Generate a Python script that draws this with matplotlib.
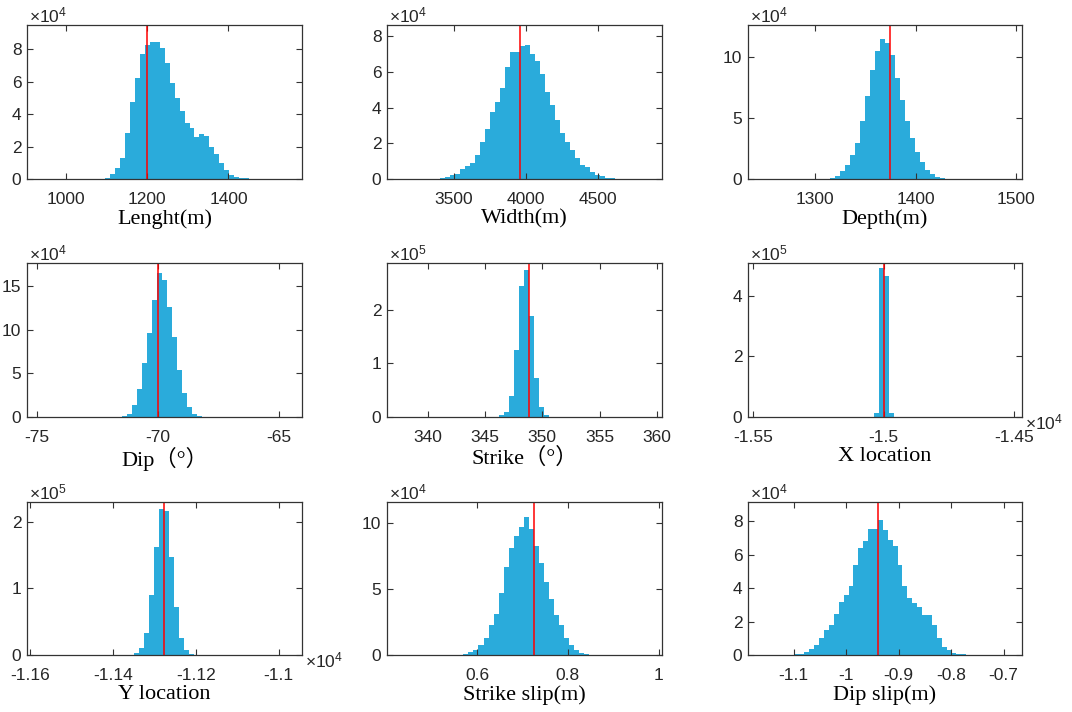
import numpy as np
import matplotlib
matplotlib.use("Agg")
import matplotlib.pyplot as plt
from matplotlib.transforms import offset_copy

plt.rcParams['font.family'] = ['Liberation Sans', 'DejaVu Sans']
plt.rcParams['mathtext.fontset'] = 'custom'
plt.rcParams['mathtext.rm'] = 'Liberation Sans'
plt.rcParams['mathtext.it'] = 'Liberation Sans:italic'
plt.rcParams['mathtext.bf'] = 'Liberation Sans:bold'

# ---------------- data (counts) ----------------
labels = ["Lenght(m)", "Width(m)", "Depth(m)",
          "Dip（°）", "Strike（°）", "X location",
          "Y location", "Strike slip(m)", "Dip slip(m)"]

length_start, length_width = 1096.7, 12.2
length_counts = [0.08, 0.29, 0.70, 1.31, 2.81, 4.76, 6.24, 7.67, 8.25, 8.41, 8.41, 8.04,
                 7.12, 5.89, 5.00, 4.18, 3.42, 3.16, 2.60, 2.77, 2.67, 1.99, 1.52, 0.97,
                 0.55, 0.25, 0.15, 0.08, 0.05, 0.03, 0.02, 0.01]
length_best = 1200.0

width_start, width_width = 3407.0, 34.7
width_counts = [0.05, 0.10, 0.20, 0.30, 0.55, 0.70, 0.90, 1.35, 2.05, 2.80, 3.75, 4.30,
                5.10, 6.25, 7.10, 7.10, 7.45, 7.50, 7.00, 6.60, 5.90, 4.85, 4.15, 3.30,
                2.60, 2.05, 1.60, 1.20, 0.80, 0.65, 0.40, 0.25, 0.15, 0.08, 0.03]
width_best = 3961.0

depth_start, depth_width = 1309.3, 5.0
depth_counts = [0.03, 0.08, 0.27, 0.68, 1.15, 1.97, 2.93, 4.79, 6.82, 9.00, 10.5, 11.5,
                11.2, 10.2, 8.27, 6.50, 4.80, 3.34, 2.19, 1.37, 0.74, 0.41, 0.19, 0.07, 0.02]
depth_best = 1374.3

dip_start, dip_width = -71.70, 0.207
dip_counts = [0.03, 0.10, 0.40, 1.40, 3.20, 6.20, 9.60, 13.4, 16.6, 15.7, 12.7, 9.20,
              5.40, 2.80, 1.10, 0.35, 0.10]
dip_best = -70.0

strike_start, strike_width = 346.25, 0.436
strike_counts = [0.03, 0.10, 0.40, 1.25, 2.45, 2.75, 1.88, 0.73, 0.18, 0.03]
strike_best = 348.87

xloc_start, xloc_width = -15038.0, 19.0
xloc_counts = [0.13, 4.90, 4.65, 0.13]
xloc_best = -15000.0

yloc_start, yloc_width = -11350.4, 12.1
yloc_counts = [0.03, 0.10, 0.33, 0.90, 1.63, 2.20, 2.17, 1.47, 0.72, 0.26, 0.07, 0.01]
yloc_best = -11277.8

sslip_start, sslip_width = 0.5035, 0.0111
sslip_counts = [0.005, 0.01, 0.01, 0.01, 0.01, 0.02, 0.10, 0.25, 0.40, 0.75, 1.30, 2.25,
                3.10, 4.70, 6.70, 8.10, 9.00, 9.70, 10.5, 9.55, 8.30, 6.95, 5.55, 4.25,
                3.00, 2.25, 1.30, 0.75, 0.35, 0.15, 0.05, 0.02, 0.01]
sslip_best = 0.7255

dslip_start, dslip_width = -1.1169, 0.00934
dslip_counts = [0.01, 0.02, 0.04, 0.07, 0.18, 0.34, 0.58, 1.00, 1.50, 1.80, 2.44, 3.20,
                3.60, 4.16, 5.40, 6.40, 6.80, 7.54, 7.54, 8.10, 7.50, 6.86, 6.54, 5.40,
                4.16, 3.40, 3.14, 2.86, 2.40, 2.40, 1.80, 1.00, 0.50, 0.30, 0.14, 0.06,
                0.03, 0.02, 0.01]
dslip_best = -0.9394

# count scale exponents (y) and x-axis scale exponents
y_exp = [4, 4, 4, 4, 5, 5, 5, 4, 4]
x_exp = [0, 0, 0, 0, 0, 4, 4, 0, 0]

x_ticks = [[1000, 1200, 1400], [3500, 4000, 4500], [1300, 1400, 1500],
           [-75, -70, -65], [340, 345, 350, 355, 360], [-15500, -15000, -14500],
           [-11600, -11400, -11200, -11000], [0.6, 0.8, 1.0], [-1.1, -1.0, -0.9, -0.8, -0.7]]
x_lims = [(904, 1581), (3037, 4947), (1233, 1506),
          (-75.41, -64.03), (336.45, 360.44), (-15520, -14470),
          (-11608, -10944), (0.402, 1.0074), (-1.187, -0.665)]
y_ticks = [[0, 2, 4, 6, 8], [0, 2, 4, 6, 8], [0, 5, 10],
           [0, 5, 10, 15], [0, 1, 2], [0, 2, 4],
           [0, 1, 2], [0, 5, 10], [0, 2, 4, 6, 8]]
y_tops = [9.48, 8.62, 12.66, 17.7, 2.875, 5.08, 2.30, 11.6, 9.16]

starts = [length_start, width_start, depth_start, dip_start, strike_start,
          xloc_start, yloc_start, sslip_start, dslip_start]
widths = [length_width, width_width, depth_width, dip_width, strike_width,
          xloc_width, yloc_width, sslip_width, dslip_width]
counts = [length_counts, width_counts, depth_counts, dip_counts, strike_counts,
          xloc_counts, yloc_counts, sslip_counts, dslip_counts]
bests = [length_best, width_best, depth_best, dip_best, strike_best,
         xloc_best, yloc_best, sslip_best, dslip_best]

# ---------------- figure ----------------
W, H = 1072, 712
fig = plt.figure(figsize=(W / 100, H / 100), dpi=100)

BAR = '#2AABDB'
AXC = '#333333'
TXT = '#262626'
col_px = [(27, 302), (387, 662), (748, 1022)]
row_px = [(25, 179), (263, 417), (502, 655)]
TICK_FS = 12.5

def fmt(v):
    return '%g' % v

for i in range(9):
    r, c = divmod(i, 3)
    x0, x1 = col_px[c]
    y0, y1 = row_px[r]
    ax = fig.add_axes([x0 / W, 1 - y1 / H, (x1 - x0) / W, (y1 - y0) / H])
    ys = 10.0 ** y_exp[i]
    cnt = np.asarray(counts[i]) * ys
    edges = starts[i] + widths[i] * np.arange(len(cnt) + 1)
    ax.stairs(cnt, edges, fill=True, color=BAR, linewidth=0)
    ax.axvline(bests[i], color='#FF0000', lw=1.1)

    ax.set_xlim(*x_lims[i])
    ax.set_ylim(0, y_tops[i] * ys)
    xs = 10.0 ** x_exp[i]
    ax.set_xticks(x_ticks[i])
    ax.set_xticklabels([fmt(round(v / xs, 6)) for v in x_ticks[i]])
    ax.set_yticks([v * ys for v in y_ticks[i]])
    ax.set_yticklabels([fmt(v) for v in y_ticks[i]])

    ax.tick_params(axis='both', direction='in', top=True, right=True, length=4,
                   width=0.8, color=AXC, labelcolor=TXT, labelsize=TICK_FS)
    ax.tick_params(axis='x', pad=9.0)
    ax.tick_params(axis='y', pad=4.0)
    for sp in ax.spines.values():
        sp.set_color(AXC)
        sp.set_linewidth(0.9)

    ax.set_xlabel(labels[i], fontsize=16, color='black',
                  family=['Liberation Serif', 'Noto Sans CJK SC'], labelpad=2)

    tr = offset_copy(ax.transAxes, fig=fig, x=2, y=3, units='dots')
    ax.text(0, 1, r'$\times\mathregular{10^{%d}}$' % y_exp[i], transform=tr,
            ha='left', va='baseline', fontsize=TICK_FS, color=TXT)
    if x_exp[i]:
        tr2 = offset_copy(ax.transAxes, fig=fig, x=3, y=-12, units='dots')
        ax.text(1, 0, r'$\times\mathregular{10^{%d}}$' % x_exp[i], transform=tr2,
                ha='left', va='baseline', fontsize=TICK_FS, color=TXT)

fig.savefig('out.png', dpi=100, facecolor='white')
